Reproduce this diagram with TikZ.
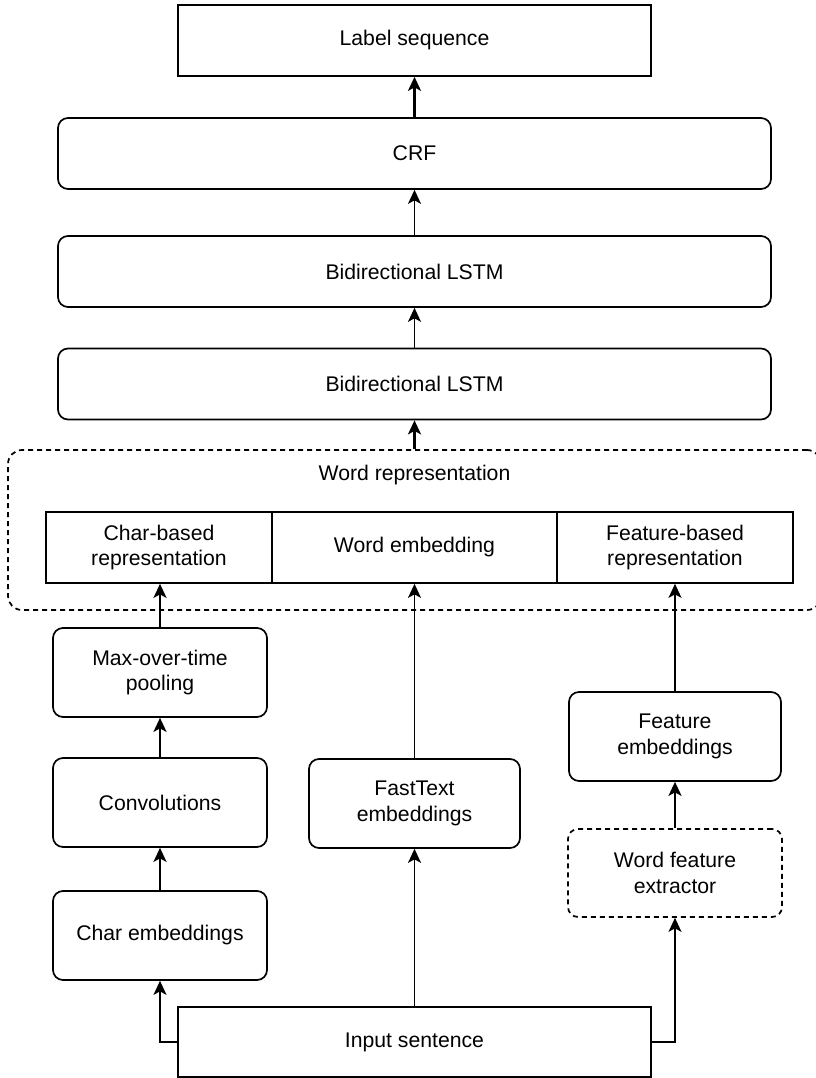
\documentclass[tikz,border=0pt]{standalone}
\usepackage{fontspec}
\setmainfont{Liberation Sans}
\usetikzlibrary{arrows.meta,positioning}
\begin{document}
\begin{tikzpicture}[x=1pt,y=-1pt,
  every node/.style={font=\fontsize{21.2}{25.5}\selectfont, align=center, inner sep=0pt, text=black},
  sqbox/.style={draw, line width=1.7pt, minimum width=#1, minimum height=71pt},
  rbox/.style={draw, line width=1.7pt, rounded corners=10pt, minimum width=#1, minimum height=71pt},
  tallbox/.style={draw, line width=1.7pt, rounded corners=10pt, minimum width=#1, minimum height=89pt},
  dashbox/.style={draw, line width=1.7pt, rounded corners=10pt, dash pattern=on 5pt off 4pt, minimum width=#1, minimum height=88pt},
  thinarr/.style={line width=1.4pt, -{Stealth[length=14pt,width=13pt,inset=3.5pt]}},
  thickarr/.style={line width=2.5pt, -{Stealth[length=14pt,width=13pt,inset=3.5pt]}}
]
\useasboundingbox (0,0) rectangle (815,1078);

% top stack
\node[sqbox=473pt] (lab) at (414.5,40.5) {Label sequence};
\node[rbox=713pt] (crf) at (414.5,153.5) {CRF};
\node[rbox=713pt] (lstmA) at (414.5,271.5) {Bidirectional LSTM};
\node[rbox=713pt] (lstmB) at (414.5,384) {Bidirectional LSTM};

% word representation group
\node[draw, line width=1.7pt, rounded corners=14pt, dash pattern=on 5pt off 4pt,
      minimum width=813pt, minimum height=160pt] (wrep) at (414.5,530) {};
\node (wreplab) at (414.5,475) {Word representation};
\node[sqbox=226pt] (cb) at (159,547.5) {Char-based\\representation};
\node[sqbox=285pt] (we) at (414.5,547.5) {Word embedding};
\node[sqbox=236pt] (fb) at (675,547.5) {Feature-based\\representation};

% left column
\node[tallbox=214pt] (maxp) at (160,672.5) {Max-over-time\\pooling};
\node[tallbox=214pt] (conv) at (160,802.5) {Convolutions};
\node[tallbox=214pt] (ce) at (160,935.5) {Char embeddings};

% middle column
\node[tallbox=211pt] (ft) at (414.5,803.5) {FastText\\embeddings};

% right column
\node[tallbox=212pt] (fe) at (675,736.5) {Feature\\embeddings};
\node[dashbox=214pt] (wfe) at (675,873) {Word feature\\extractor};

% input
\node[draw, line width=1.7pt, minimum width=473pt, minimum height=70pt] (inp) at (414.5,1042) {Input sentence};

% connectors
\draw[thickarr] (crf.north) -- (lab.south);
\draw[thinarr] (lstmA.north) -- (crf.south);
\draw[thinarr] (lstmB.north) -- (lstmA.south);
\draw[thickarr] (wrep.north) -- (lstmB.south);

\draw[thickarr] (maxp.north) -- (maxp.north |- cb.south);
\draw[thickarr] (conv.north) -- (maxp.south);
\draw[thickarr] (ce.north) -- (conv.south);
\draw[thinarr] (inp.west) -| (ce.south);

\draw[thinarr] (ft.north) -- (we.south);
\draw[thinarr] (inp.north) -- (ft.south);

\draw[thinarr] (fe.north) -- (fb.south);
\draw[thickarr] (wfe.north) -- (fe.south);
\draw[thinarr] (inp.east) -| (wfe.south);
\end{tikzpicture}
\end{document}
